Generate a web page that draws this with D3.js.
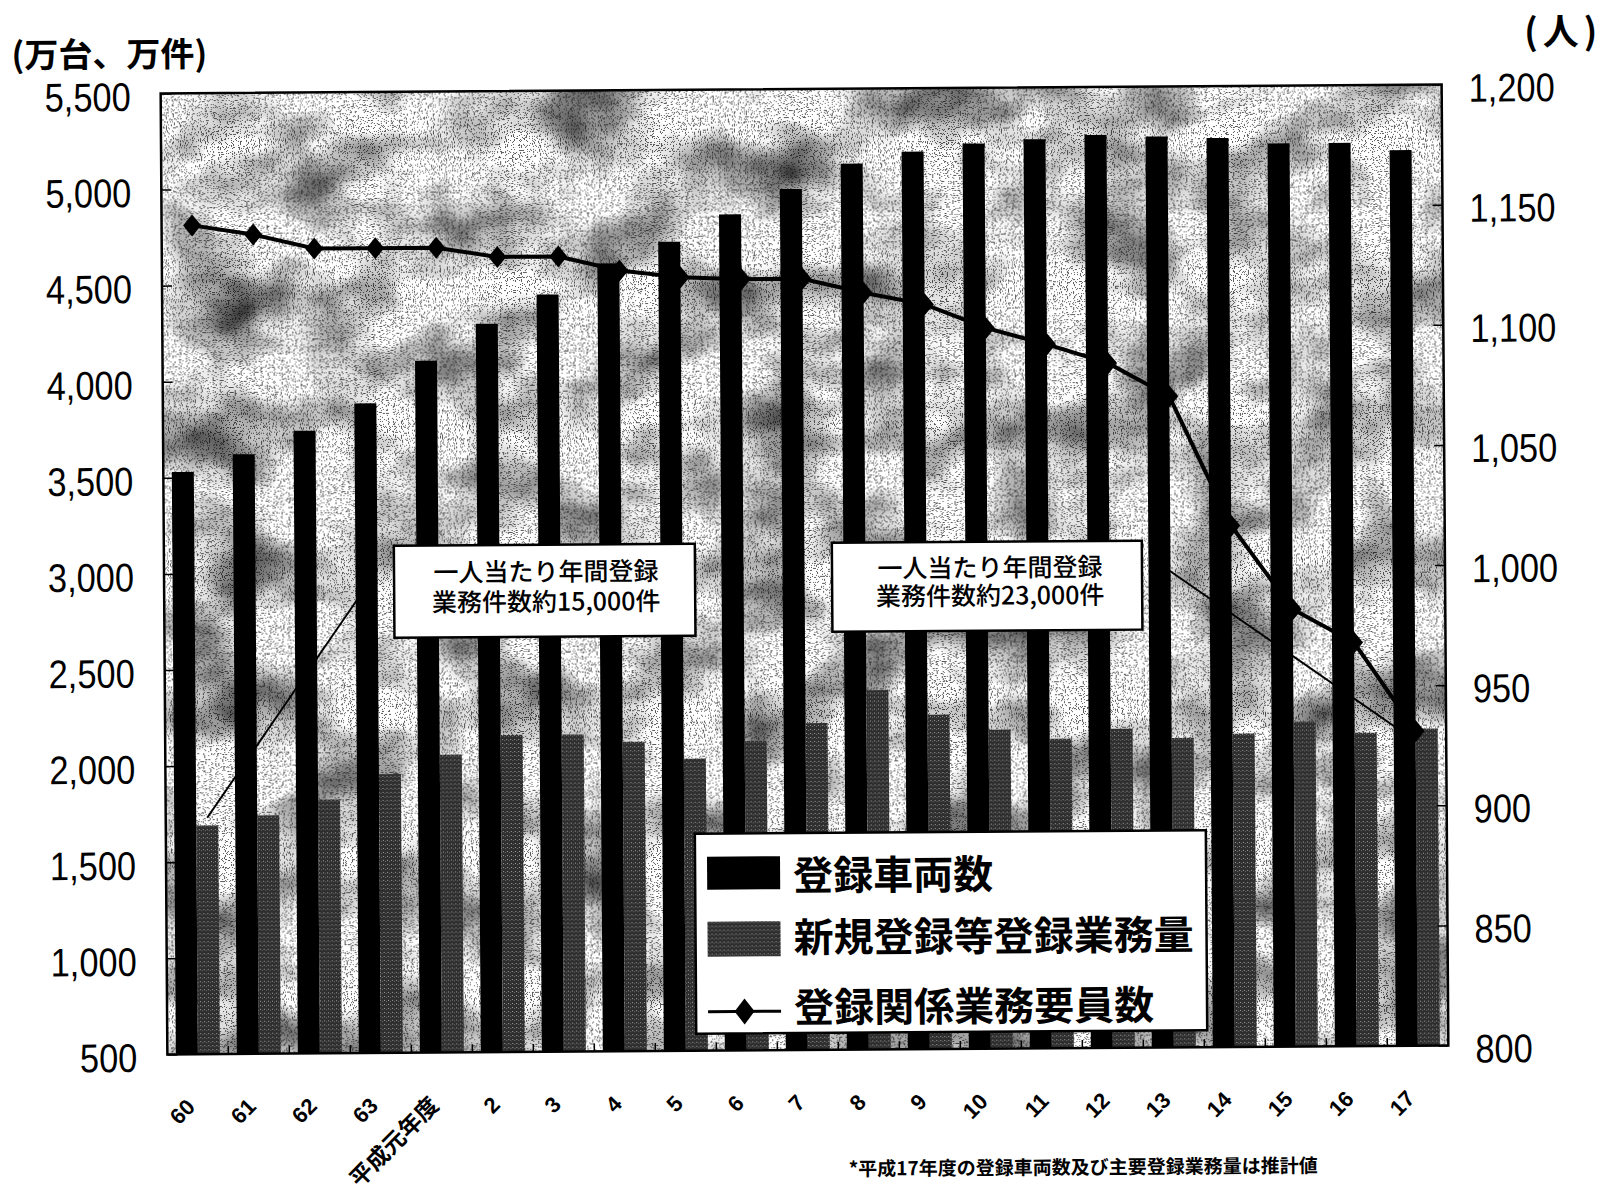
<!DOCTYPE html>
<html lang="ja">
<head>
<meta charset="UTF-8">
<title>登録車両数・登録業務量・要員数の推移</title>
<script src="https://d3js.org/d3.v7.min.js"></script>
<style>
  body { margin: 0; background: #fff; }
  svg text { font-family: "Liberation Sans", "Noto Sans CJK JP", sans-serif; fill: #000; }
  .jp { font-family: "Noto Sans CJK JP", sans-serif; }
</style>
</head>
<body>
<div id="chart"></div>
<script>
// 年度（昭和60〜63, 平成元〜17）
const categories = ["60", "61", "62", "63", "平成元年度", "2", "3", "4", "5", "6", "7", "8", "9", "10", "11", "12", "13", "14", "15", "16", "17"];
// 登録車両数（万台）
const vehicles = [3530, 3620, 3740, 3880, 4100, 4290, 4440, 4600, 4710, 4850, 4980, 5110, 5170, 5210, 5230, 5250, 5240, 5230, 5200, 5200, 5160];
// 新規登録等登録業務量（万件）
const workload = [1690, 1740, 1820, 1950, 2050, 2150, 2150, 2110, 2020, 2110, 2200, 2370, 2240, 2160, 2110, 2160, 2110, 2130, 2190, 2130, 2150];
// 登録関係業務要員数（人）
const staff = [1145, 1141, 1135, 1135, 1135, 1131, 1131, 1125, 1122, 1121, 1121, 1115, 1110, 1100, 1093, 1085, 1071, 1017, 982, 968, 931];

const seriesNames = ["登録車両数", "新規登録等登録業務量", "登録関係業務要員数"];
const leftTicks = [500, 1000, 1500, 2000, 2500, 3000, 3500, 4000, 4500, 5000, 5500];
const rightTicks = [800, 850, 900, 950, 1000, 1050, 1100, 1150, 1200];

// 吹き出し
const noteTexts = [
  ["一人当たり年間登録", "業務件数約15,000件"],
  ["一人当たり年間登録", "業務件数約23,000件"]
];
const noteFrom = [{ cat: "60", value: 1730 }, { cat: "13", value: 3017 }];
const noteTo = [{ cat: "63", value: 2930 }, { cat: "17", value: 2125 }];

const width = 1606, height = 1199;
const plot = { left: 164, right: 1445, top: 89, bottom: 1050 };

const svg = d3.select("#chart").append("svg")
  .attr("width", width)
  .attr("height", height);

const defs = svg.append("defs");

// 背景の網かけ（雲状のムラ + 細かい点）
const f = defs.append("filter").attr("id", "mottle")
  .attr("x", 0).attr("y", 0).attr("width", 1).attr("height", 1)
  .attr("color-interpolation-filters", "sRGB");
f.append("feTurbulence").attr("type", "fractalNoise").attr("baseFrequency", "0.011 0.015")
  .attr("numOctaves", 3).attr("seed", 11).attr("result", "cloud");
f.append("feColorMatrix").attr("in", "cloud").attr("type", "matrix")
  .attr("values", "1.5 0 0 0 0.12  1.5 0 0 0 0.12  1.5 0 0 0 0.12  0 0 0 0 1")
  .attr("result", "cloudGray");
f.append("feTurbulence").attr("type", "fractalNoise").attr("baseFrequency", "0.85")
  .attr("numOctaves", 1).attr("seed", 4).attr("result", "grain");
f.append("feColorMatrix").attr("in", "grain").attr("type", "matrix")
  .attr("values", "4 0 0 0 -1.5  4 0 0 0 -1.5  4 0 0 0 -1.5  0 0 0 0 1")
  .attr("result", "grainGray");
const ct = f.append("feComponentTransfer").attr("in", "grainGray").attr("result", "dots");
["feFuncR", "feFuncG", "feFuncB"].forEach(fn =>
  ct.append(fn).attr("type", "discrete").attr("tableValues", "0.35 1 1 1 1 1 1 1 1 1"));
f.append("feBlend").attr("in", "cloudGray").attr("in2", "dots").attr("mode", "multiply");

// 業務量の棒の点描
const pat = defs.append("pattern").attr("id", "stipple")
  .attr("width", 4).attr("height", 4).attr("patternUnits", "userSpaceOnUse");
pat.append("rect").attr("width", 4).attr("height", 4).attr("fill", "#2e2e2e");
pat.append("rect").attr("x", 1).attr("y", 1).attr("width", 1).attr("height", 1).attr("fill", "#a0a0a0");
pat.append("rect").attr("x", 3).attr("y", 2).attr("width", 1).attr("height", 1).attr("fill", "#6e6e6e");

// スキャン原稿のわずかな傾き
const g = svg.append("g").attr("transform", "rotate(-0.4, 803, 570)");

const x0 = d3.scaleBand().domain(categories).range([plot.left, plot.right]).padding(0);
const x1 = d3.scaleBand().domain(["vehicles", "workload"])
  .range([0, x0.bandwidth()]).paddingInner(0).paddingOuter(0.386);
const yL = d3.scaleLinear().domain([500, 5500]).range([plot.bottom, plot.top]);
const yR = d3.scaleLinear().domain([800, 1200]).range([plot.bottom, plot.top]);
const cx = c => x0(c) + x0.bandwidth() / 2;

g.append("rect")
  .attr("x", plot.left).attr("y", plot.top)
  .attr("width", plot.right - plot.left).attr("height", plot.bottom - plot.top)
  .attr("fill", "#bbb")
  .attr("filter", "url(#mottle)");

// 棒
g.append("g").selectAll("rect")
  .data(vehicles)
  .join("rect")
  .attr("x", (d, i) => x0(categories[i]) + x1("vehicles"))
  .attr("y", d => yL(d))
  .attr("width", x1.bandwidth())
  .attr("height", d => plot.bottom - yL(d))
  .attr("fill", "#000");

g.append("g").selectAll("rect")
  .data(workload)
  .join("rect")
  .attr("x", (d, i) => x0(categories[i]) + x1("workload"))
  .attr("y", d => yL(d))
  .attr("width", x1.bandwidth())
  .attr("height", d => plot.bottom - yL(d))
  .attr("fill", "url(#stipple)");

// 吹き出しの引き出し線
g.append("g").selectAll("line")
  .data(noteFrom)
  .join("line")
  .attr("x1", (d, i) => x0(d.cat) + x1(i === 0 ? "workload" : "vehicles") + x1.bandwidth() / 2)
  .attr("y1", d => yL(d.value))
  .attr("x2", (d, i) => x0(noteTo[i].cat) + x1("vehicles") + x1.bandwidth() / 2)
  .attr("y2", (d, i) => yL(noteTo[i].value))
  .attr("stroke", "#000")
  .attr("stroke-width", 2);

// 要員数の折れ線
const line = d3.line()
  .x((d, i) => cx(categories[i]))
  .y(d => yR(d));
g.append("path")
  .datum(staff)
  .attr("d", line)
  .attr("fill", "none")
  .attr("stroke", "#000")
  .attr("stroke-width", 4);

const diamond = (w, h) => `M0,${-h}L${w},0L0,${h}L${-w},0Z`;
g.append("g").selectAll("path")
  .data(staff)
  .join("path")
  .attr("transform", (d, i) => `translate(${cx(categories[i])},${yR(d)})`)
  .attr("d", diamond(9, 11))
  .attr("fill", "#000");

// 吹き出しの箱
const boxes = [
  { x: 394, y: 543, w: 301, h: 92, tx: 546, b: [579, 609] },
  { x: 832, y: 543, w: 310, h: 89, tx: 990, b: [578, 606] }
];
boxes.forEach((bx, k) => {
  g.append("rect")
    .attr("x", bx.x).attr("y", bx.y).attr("width", bx.w).attr("height", bx.h)
    .attr("fill", "#fff").attr("stroke", "#000").attr("stroke-width", 2.5);
  noteTexts[k].forEach((t, j) => {
    g.append("text")
      .attr("class", "jp")
      .attr("x", bx.tx).attr("y", bx.b[j])
      .attr("text-anchor", "middle")
      .attr("font-size", 25)
      .attr("font-weight", 500)
      .text(t);
  });
});

// 凡例
const legend = g.append("g");
legend.append("rect")
  .attr("x", 693).attr("y", 833).attr("width", 511).attr("height", 200)
  .attr("fill", "#fff").attr("stroke", "#000").attr("stroke-width", 2.5);
legend.append("rect").attr("x", 705).attr("y", 856).attr("width", 73).attr("height", 33).attr("fill", "#000");
legend.append("rect").attr("x", 705).attr("y", 921).attr("width", 73).attr("height", 35).attr("fill", "url(#stipple)");
legend.append("line").attr("x1", 705).attr("x2", 778).attr("y1", 1011).attr("y2", 1011)
  .attr("stroke", "#000").attr("stroke-width", 3);
legend.append("path").attr("transform", "translate(741.5,1011)").attr("d", diamond(10, 13)).attr("fill", "#000");
legend.selectAll("text")
  .data(seriesNames)
  .join("text")
  .attr("class", "jp")
  .attr("x", 791)
  .attr("y", (d, i) => [890, 952, 1022][i])
  .attr("font-size", 40)
  .attr("font-weight", 700)
  .text(d => d);

// 枠
g.append("rect")
  .attr("x", plot.left).attr("y", plot.top)
  .attr("width", plot.right - plot.left).attr("height", plot.bottom - plot.top)
  .attr("fill", "none").attr("stroke", "#000").attr("stroke-width", 2.5);

// 下の目盛（区切り）
g.append("g").selectAll("line")
  .data(categories.slice(1))
  .join("line")
  .attr("x1", d => x0(d)).attr("x2", d => x0(d))
  .attr("y1", plot.bottom).attr("y2", plot.bottom - 8)
  .attr("stroke", "#000").attr("stroke-width", 1.5);

// 左軸（数字は縦長に）
const sx = 0.86;
const axL = g.append("g")
  .attr("transform", `translate(${plot.left},0)`)
  .call(d3.axisLeft(yL).tickValues(leftTicks).tickSizeInner(-10).tickSizeOuter(0)
    .tickFormat(d3.format(",")));
axL.select(".domain").remove();
axL.selectAll("line").attr("stroke-width", 1.5);
axL.selectAll("text")
  .attr("font-size", 40)
  .attr("x", -30 / sx).attr("y", 4)
  .attr("transform", `scale(${sx},1)`);

// 右軸
const axR = g.append("g")
  .attr("transform", `translate(${plot.right},0)`)
  .call(d3.axisRight(yR).tickValues(rightTicks).tickSizeInner(-10).tickSizeOuter(0)
    .tickFormat(d3.format(",")));
axR.select(".domain").remove();
axR.selectAll("line").attr("stroke-width", 1.5);
axR.selectAll("text")
  .attr("font-size", 40)
  .attr("x", 27 / sx).attr("y", 4)
  .attr("transform", `scale(${sx},1)`);

// 横軸ラベル
const axB = g.append("g")
  .attr("transform", `translate(0,${plot.bottom})`)
  .call(d3.axisBottom(x0).tickSize(0).tickPadding(0));
axB.select(".domain").remove();
axB.selectAll("text")
  .attr("y", 0).attr("dy", null)
  .attr("text-anchor", "end")
  .attr("font-size", d => d.length > 2 ? 23 : 22)
  .attr("font-weight", 700)
  .attr("transform", "translate(-2,54) rotate(-45)");

// 軸の単位
g.append("text").attr("class", "jp")
  .attr("x", 113).attr("y", 62).attr("text-anchor", "middle")
  .attr("font-size", 34).attr("font-weight", 700)
  .text("(万台、万件)");
g.append("text").attr("class", "jp")
  .attr("x", 1567).attr("y", 50).attr("text-anchor", "middle")
  .attr("font-size", 36).attr("font-weight", 700)
  .attr("letter-spacing", 5)
  .text("(人)");

// 注記
g.append("text").attr("class", "jp")
  .attr("x", 1079).attr("y", 1176).attr("text-anchor", "middle")
  .attr("font-size", 19).attr("font-weight", 700)
  .text("*平成17年度の登録車両数及び主要登録業務量は推計値");
</script>
</body>
</html>
